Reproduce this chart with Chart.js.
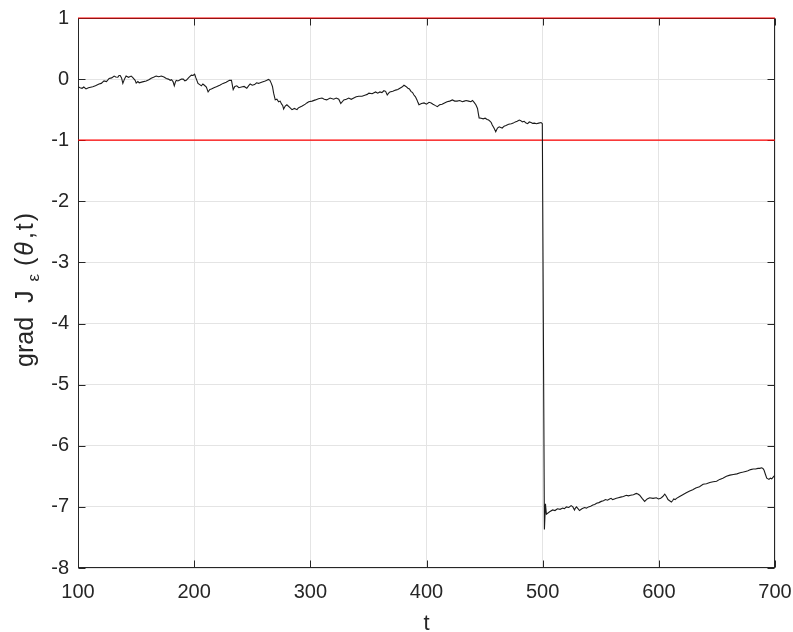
<!DOCTYPE html>
<html><head><meta charset="utf-8">
<script src="https://cdn.jsdelivr.net/npm/chart.js@4.4.1/dist/chart.umd.min.js"></script>
<style>html,body{margin:0;padding:0;background:#fff;overflow:hidden;}</style>
</head><body>
<canvas id="c" width="793" height="632"></canvas>
<script>
const tValues = [
  100,101.8,103.5,105,106.9,109,112.7,115,118.1,120,
  122.4,124.5,126.8,129,131.1,132.5,134.3,135.3,136.3,137.5,
  138.6,140,141.4,143.5,145.8,147,148.3,149.2,150.1,151.5,
  152.7,155.5,158.7,161,163,165,167.3,169.5,171.7,174,
  176,177.8,179.4,180.5,181.8,182.9,183.8,184.6,186,187.2,
  189,190.6,192,193.2,195.5,197.6,199,200.4,201.5,203.3,
  204.8,206.2,207.5,208.8,210.5,212,213.5,214.8,217,219.1,
  222,224.9,227.5,230.4,232.1,233.6,235,236.7,238.5,240.7,
  243,245.3,246.8,248.2,250,252,253.7,255.4,258,261.2,
  262.5,264,265.2,266.4,267.4,268.4,269.8,271.2,272.7,274,
  275.3,276.2,277,278.4,279.8,282,284.2,286.3,288.5,289.7,
  290.8,293,295.7,297,298.6,301.5,304.4,307,310,312,
  314.1,317,320.1,322.3,324.5,326.2,328.8,331,333.1,335.2,
  337.4,339.5,341.7,344.5,347.5,349,350.4,353.2,356.2,358,
  359.9,361.6,363.3,364.8,366.2,367.4,368.5,371,373.4,375.3,
  377.1,378.9,380.6,382.3,384,385.3,386.6,388,389.2,390.5,
  391.8,392.6,393.5,395.7,397.9,400,402.2,404,405.6,407.4,
  409.3,411.3,413.4,415.5,417.7,420,422.3,424.3,426.3,428.6,
  430.9,432.5,434.1,436.2,438.2,439.6,441,442.5,443.9,444.6,
  445.3,447,448.8,450.5,452.2,453.5,454.8,455.7,456.6,458.1,
  459.6,461.1,462.6,463.9,465.2,466.8,468.4,470.7,473,474.7,
  476.4,478.1,479.9,481.2,482.5,484.1,485.7,487.1,488.5,490,
  491.4,493,494.6,496.6,498.6,499.7,501.5,502.4,503.2,506,
  508.6,510.6,512.7,515,517.3,518.8,520.4,522.5,524.5,526,
  527.4,528.2,529.1,530.4,531.7,533.8,536,537.7,539.4,541.3,
  543.2,544.8,546.4,548.4,550.4,552.3,554.1,555.8,557.6,558.9,
  560.2,561.8,563.4,565.2,567.1,569.5,572,573.8,575.7,578.1,
  580.6,582,583.5,585.6,587.8,590,592.1,595,597.9,599.7,
  601.6,603.4,605.1,606.5,607.9,609.3,610.8,611.8,612.8,614,
  615.2,617.9,620.6,623.6,626.6,629.2,631.8,635,638.1,641,
  643.9,646.8,649.7,652.4,655.1,658.2,661.2,664.2,667.2,670,
  672.7,674.7,676.7,679,681.3,683.3,685.3,686.9,688.5,689.6,
  690.6,691.8,692.9,694.8,696,697.2,698.6,700
];
const gradValues = [
  -0.125,-0.14,-0.15,-0.13,-0.16,-0.14,-0.125,-0.11,-0.08,-0.07,
  -0.03,-0.04,0.01,0.02,0.05,0.035,0.03,0.06,0.06,0.02,
  -0.07,0.0,0.05,0.03,0.05,0.03,0.0,-0.02,-0.065,-0.04,
  -0.06,-0.045,-0.03,-0.01,0.015,0.03,0.05,0.04,0.05,0.035,
  0.01,0.0,-0.02,-0.01,-0.04,-0.11,-0.05,-0.02,-0.03,-0.02,
  0.0,0,-0.03,-0.02,0.03,0.065,0.06,0.08,0.02,-0.07,
  -0.09,-0.11,-0.08,-0.1,-0.13,-0.21,-0.17,-0.16,-0.14,-0.125,
  -0.1,-0.07,-0.05,-0.02,-0.02,-0.17,-0.12,-0.11,-0.14,-0.13,
  -0.12,-0.15,-0.11,-0.08,-0.1,-0.09,-0.06,-0.07,-0.05,-0.03,
  -0.02,-0.005,-0.02,-0.07,-0.12,-0.23,-0.34,-0.33,-0.37,-0.36,
  -0.41,-0.43,-0.49,-0.44,-0.42,-0.46,-0.5,-0.48,-0.5,-0.47,
  -0.46,-0.44,-0.41,-0.39,-0.37,-0.36,-0.34,-0.32,-0.31,-0.33,
  -0.34,-0.31,-0.33,-0.31,-0.33,-0.4,-0.34,-0.33,-0.31,-0.33,
  -0.31,-0.29,-0.28,-0.28,-0.26,-0.25,-0.23,-0.24,-0.21,-0.23,
  -0.21,-0.22,-0.19,-0.2,-0.26,-0.23,-0.21,-0.2,-0.18,-0.17,
  -0.15,-0.13,-0.1,-0.12,-0.15,-0.16,-0.2,-0.22,-0.26,-0.29,
  -0.34,-0.38,-0.42,-0.4,-0.39,-0.41,-0.38,-0.39,-0.41,-0.43,
  -0.45,-0.42,-0.41,-0.39,-0.37,-0.36,-0.34,-0.36,-0.36,-0.35,
  -0.37,-0.36,-0.35,-0.36,-0.37,-0.35,-0.38,-0.42,-0.48,-0.56,
  -0.635,-0.64,-0.65,-0.64,-0.66,-0.67,-0.69,-0.71,-0.75,-0.8,
  -0.86,-0.8,-0.78,-0.79,-0.8,-0.77,-0.76,-0.74,-0.73,-0.72,
  -0.7,-0.69,-0.67,-0.68,-0.7,-0.69,-0.72,-0.73,-0.7,-0.71,
  -0.725,-0.72,-0.73,-0.72,-0.71,-0.73,-7.37,-6.95,-7.12,-7.08,
  -7.05,-7.06,-7.03,-7.04,-7.02,-7.03,-7.0,-7.01,-6.98,-7.0,
  -7.05,-7.02,-7.0,-7.03,-7.06,-7.03,-7.01,-7.02,-7.0,-6.99,
  -6.97,-6.96,-6.94,-6.93,-6.91,-6.9,-6.88,-6.89,-6.87,-6.86,
  -6.88,-6.87,-6.86,-6.85,-6.84,-6.83,-6.81,-6.82,-6.81,-6.8,
  -6.78,-6.79,-6.81,-6.86,-6.91,-6.87,-6.85,-6.86,-6.85,-6.87,
  -6.86,-6.83,-6.79,-6.83,-6.88,-6.9,-6.92,-6.9,-6.87,-6.88,
  -6.86,-6.83,-6.8,-6.77,-6.74,-6.72,-6.69,-6.67,-6.63,-6.62,
  -6.6,-6.59,-6.58,-6.55,-6.53,-6.5,-6.48,-6.47,-6.46,-6.44,
  -6.43,-6.42,-6.41,-6.39,-6.38,-6.38,-6.37,-6.37,-6.36,-6.37,
  -6.4,-6.47,-6.53,-6.55,-6.53,-6.54,-6.51,-6.48
];
const boundTimes = [100, 700];
const upperBound = [1, 1];
const lowerBound = [-1, -1];
const xTicks = [100, 200, 300, 400, 500, 600, 700];
const yTicks = [1, 0, -1, -2, -3, -4, -5, -6, -7, -8];
const xTitle = 't';
const yTitleParts = ['grad  J', '\u03B5', '(', '\u03B8', ',t)'];

const FONT = "'Liberation Sans', Arial, Helvetica, sans-serif";
const TXT = '#262626';

const toXY = (xs, ys) => xs.map((x, i) => ({x: x, y: ys[i]}));

const boxPlugin = {
  id: 'box',
  beforeDatasetsDraw(chart) {
    const {ctx, chartArea: a, scales} = chart;
    ctx.save();
    ctx.strokeStyle = '#262626';
    ctx.lineWidth = 1;
    const L = Math.round(a.left) + 0.5, R = Math.round(a.right) - 0.5;
    const T = Math.round(a.top) + 0.5, B = Math.round(a.bottom) - 0.5;
    ctx.strokeRect(L, T, R - L, B - T);
    const tl = 7;
    ctx.beginPath();
    xTicks.forEach(v => {
      const px = Math.round(scales.x.getPixelForValue(v)) + 0.5;
      ctx.moveTo(px, B); ctx.lineTo(px, B - tl);
      ctx.moveTo(px, T); ctx.lineTo(px, T + tl);
    });
    yTicks.forEach(v => {
      const py = Math.round(scales.y.getPixelForValue(v)) + 0.5;
      ctx.moveTo(L, py); ctx.lineTo(L + tl, py);
      ctx.moveTo(R, py); ctx.lineTo(R - tl, py);
    });
    ctx.stroke();
    ctx.restore();
  },
  afterDraw(chart) {
    const {ctx} = chart;
    ctx.save();
    ctx.fillStyle = TXT;
    ctx.textBaseline = 'alphabetic';
    ctx.textAlign = 'left';
    const main = '25px ' + FONT;
    const parts = [
      {t: yTitleParts[0], f: main, dy: 0, gap: 9, sp: 0},
      {t: yTitleParts[1], f: '17px ' + FONT, dy: 6, gap: 8, sp: 0},
      {t: yTitleParts[2], f: main, dy: 0, gap: 2, sp: 0},
      {t: yTitleParts[3], f: 'italic ' + main, dy: 0, gap: 3, sp: 0},
      {t: yTitleParts[4], f: main, dy: 0, gap: 0, sp: 2}
    ];
    ctx.translate(33, 367);
    ctx.rotate(-Math.PI / 2);
    let x = 0;
    parts.forEach(p => {
      ctx.font = p.f;
      if (p.sp) {
        for (const ch of p.t) { ctx.fillText(ch, x, p.dy); x += ctx.measureText(ch).width + p.sp; }
      } else {
        ctx.fillText(p.t, x, p.dy); x += ctx.measureText(p.t).width;
      }
      x += p.gap;
    });
    ctx.restore();
  }
};

new Chart(document.getElementById('c'), {
  type: 'line',
  data: {
    datasets: [
      {label: 'grad J', data: toXY(tValues, gradValues), borderColor: '#1a1a1a', borderWidth: 1.1, pointRadius: 0, tension: 0, fill: false},
      {label: 'upper', data: toXY(boundTimes, upperBound), borderColor: '#ff0000', borderWidth: 1.2, pointRadius: 0, fill: false, clip: 4},
      {label: 'lower', data: toXY(boundTimes, lowerBound), borderColor: '#ff0000', borderWidth: 1.2, pointRadius: 0, fill: false}
    ]
  },
  options: {
    responsive: false,
    animation: false,
    events: [],
    layout: {padding: {top: 18, right: 18, left: 0, bottom: 0}},
    plugins: {legend: {display: false}, tooltip: {enabled: false}},
    scales: {
      x: {
        type: 'linear', min: 100, max: 700,
        afterBuildTicks: s => { s.ticks = xTicks.map(v => ({value: v})); },
        afterFit: s => { s.height = 64; s.paddingRight = 0; s.paddingLeft = 0; },
        grid: {color: '#e4e4e4', drawTicks: false},
        border: {display: false},
        ticks: {color: TXT, font: {family: FONT, size: 20}, padding: 12, maxRotation: 0},
        title: {display: true, text: xTitle, color: TXT, font: {family: FONT, size: 22}, padding: {top: 0, bottom: -5}}
      },
      y: {
        type: 'linear', min: -8, max: 1,
        afterBuildTicks: s => { s.ticks = yTicks.map(v => ({value: v})); },
        afterFit: s => { s.width = 78; s.paddingTop = 0; s.paddingBottom = 0; },
        grid: {color: '#e4e4e4', drawTicks: false},
        border: {display: false},
        ticks: {color: TXT, font: {family: FONT, size: 20}, padding: 9}
      }
    }
  },
  plugins: [boxPlugin]
});
</script>
</body></html>
